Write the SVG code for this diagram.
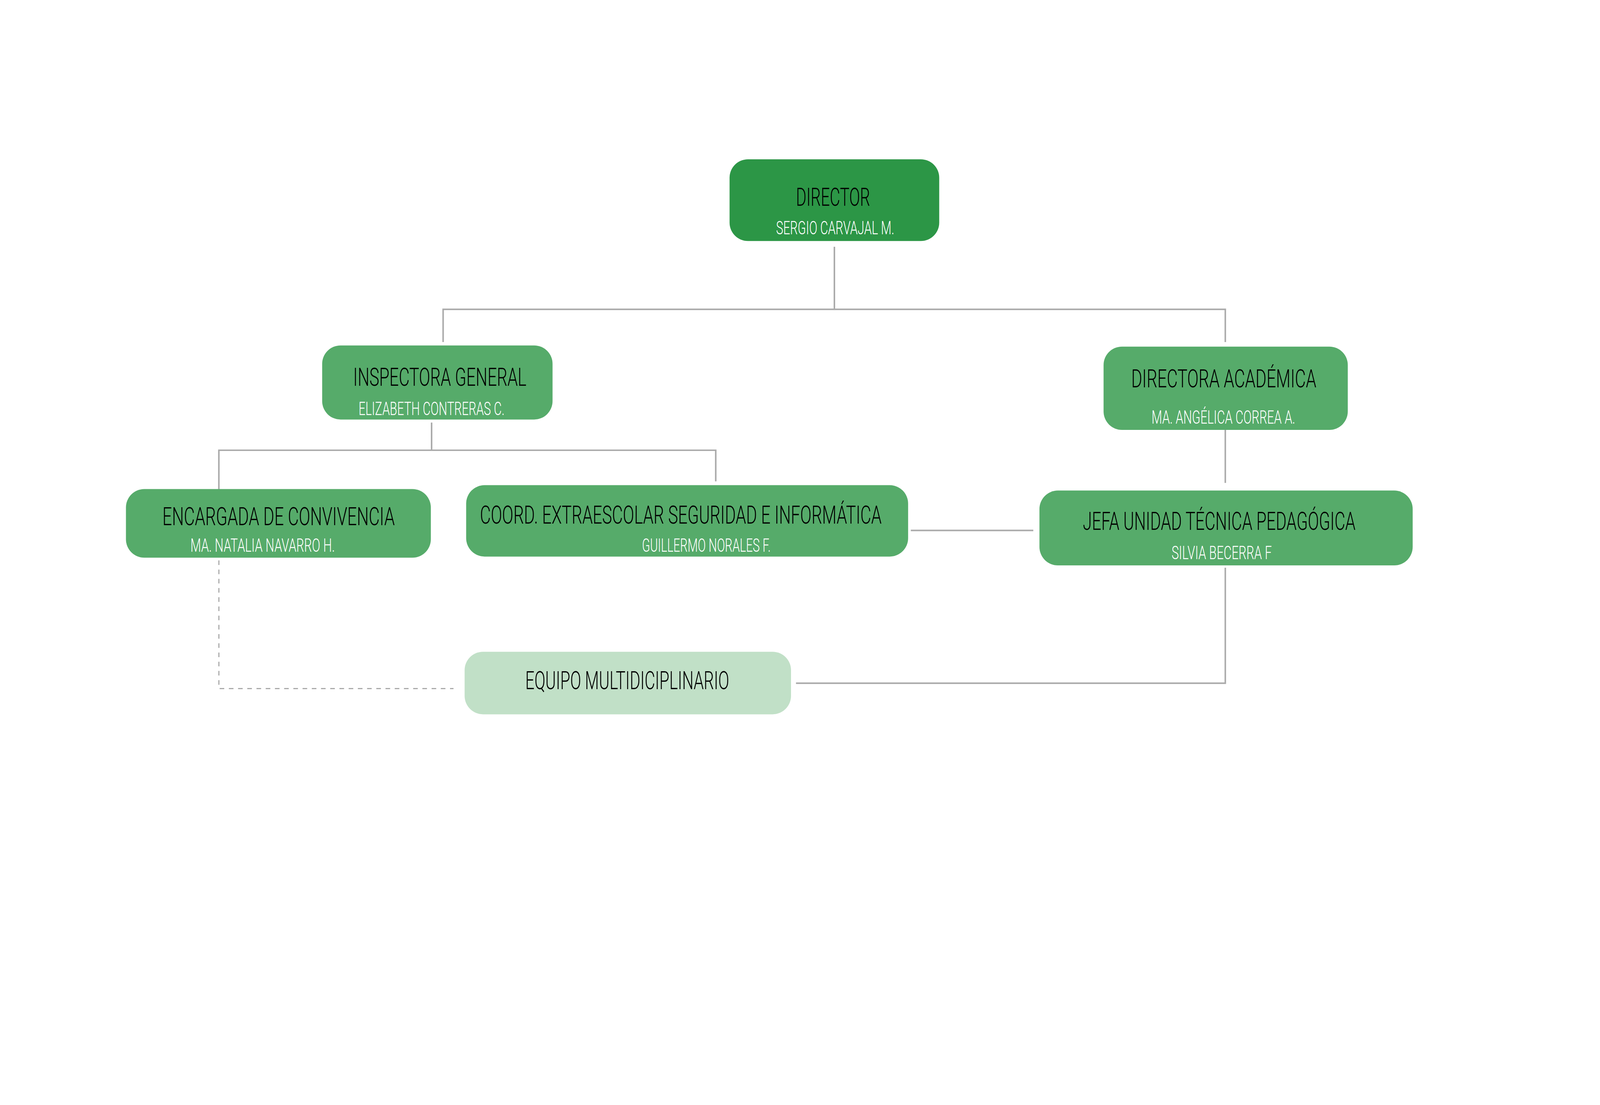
<svg xmlns="http://www.w3.org/2000/svg" width="4165" height="2830" viewBox="0 0 4165 2830">
<style>
.box{fill:#56AB6A}
.top{fill:#2C9646}
.light{fill:#C1E0C7}
.t{font-family:Roboto,"Liberation Sans",sans-serif;font-weight:300;font-size:66px;fill:#000}
.n{font-family:Roboto,"Liberation Sans",sans-serif;font-weight:300;font-size:48px;fill:#fff}
.ln{fill:none;stroke:#AAAAAA;stroke-width:4}
.dash{fill:none;stroke:#AAAAAA;stroke-width:3;stroke-dasharray:12 12}
</style>
<rect width="4165" height="2830" fill="#fff"/>
<g transform="translate(0,2) scale(0.983)">
<g id="connectors">
<path class="ln" d="M2173,641 V804 M1154,889 V804 H3191 V889"/>
<path class="ln" d="M1124,1099 V1171 M570,1273 V1171 H1864 V1252"/>
<path class="ln" d="M3191,1114 V1256"/>
<path class="ln" d="M2372,1380 H2691"/>
<path class="ln" d="M3191,1477 V1778 H2073"/>
<path class="dash" d="M570,1458 V1792 H1181"/>
</g>
<g id="director">
<rect class="top" x="1900" y="413" width="546" height="213" rx="48"/>
<text class="t" x="2073" y="534" textLength="193" lengthAdjust="spacingAndGlyphs">DIRECTOR</text>
<text class="n" x="2021" y="608" textLength="308" lengthAdjust="spacingAndGlyphs">SERGIO CARVAJAL M.</text>
</g>
<g id="inspectora">
<rect class="box" x="839" y="898" width="600" height="193" rx="48"/>
<text class="t" x="920" y="1003" textLength="451" lengthAdjust="spacingAndGlyphs">INSPECTORA GENERAL</text>
<text class="n" x="934" y="1079" textLength="380" lengthAdjust="spacingAndGlyphs">ELIZABETH CONTRERAS C.</text>
</g>
<g id="directora">
<rect class="box" x="2874" y="901" width="636" height="217" rx="48"/>
<text class="t" x="2946" y="1007" textLength="482" lengthAdjust="spacingAndGlyphs">DIRECTORA ACADÉMICA</text>
<text class="n" x="2999" y="1102" textLength="374" lengthAdjust="spacingAndGlyphs">MA. ANGÉLICA CORREA A.</text>
</g>
<g id="encargada">
<rect class="box" x="328" y="1272" width="794" height="179" rx="48"/>
<text class="t" x="423" y="1366" textLength="605" lengthAdjust="spacingAndGlyphs">ENCARGADA DE CONVIVENCIA</text>
<text class="n" x="496" y="1435" textLength="376" lengthAdjust="spacingAndGlyphs">MA. NATALIA NAVARRO H.</text>
</g>
<g id="coord">
<rect class="box" x="1214" y="1262" width="1151" height="186" rx="48"/>
<text class="t" x="1250" y="1362" textLength="1046" lengthAdjust="spacingAndGlyphs">COORD. EXTRAESCOLAR SEGURIDAD E INFORMÁTICA</text>
<text class="n" x="1672" y="1435" textLength="335" lengthAdjust="spacingAndGlyphs">GUILLERMO NORALES F.</text>
</g>
<g id="jefa">
<rect class="box" x="2707" y="1276" width="972" height="195" rx="48"/>
<text class="t" x="2820" y="1378" textLength="710" lengthAdjust="spacingAndGlyphs">JEFA UNIDAD TÉCNICA PEDAGÓGICA</text>
<text class="n" x="3051" y="1455" textLength="261" lengthAdjust="spacingAndGlyphs">SILVIA BECERRA F</text>
</g>
<g id="equipo">
<rect class="light" x="1210" y="1696" width="850" height="163" rx="48"/>
<text class="t" x="1368" y="1793" textLength="531" lengthAdjust="spacingAndGlyphs">EQUIPO MULTIDICIPLINARIO</text>
</g>
</g>
</svg>
